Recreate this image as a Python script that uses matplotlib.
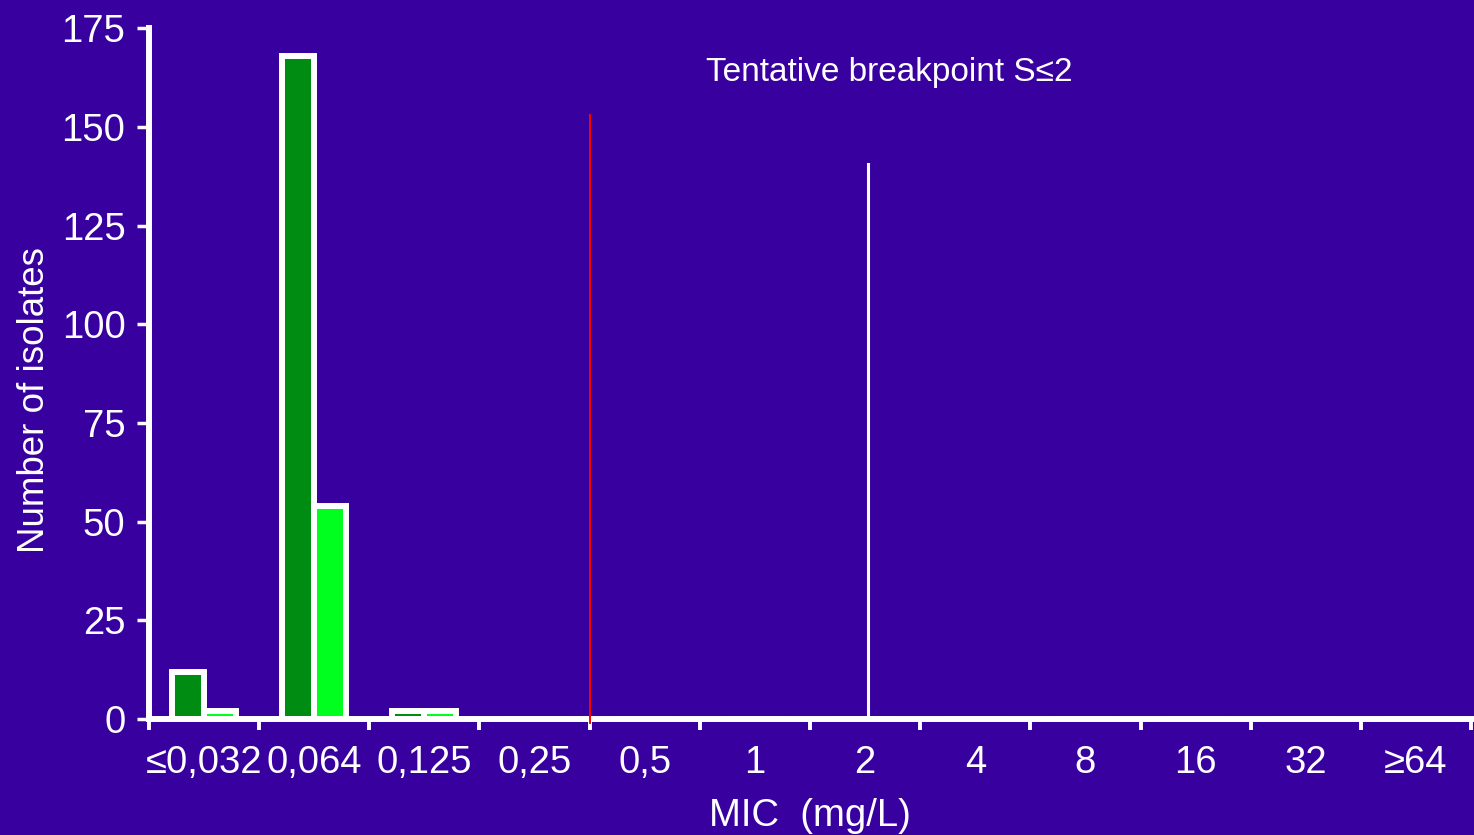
import matplotlib
matplotlib.use("Agg")
import matplotlib.pyplot as plt
import numpy as np

plt.rcParams['font.family'] = ['Liberation Sans', 'DejaVu Sans']

# MIC distribution (number of isolates per MIC class)
mic_labels = ["≤0,032", "0,064", "0,125", "0,25", "0,5", "1", "2", "4", "8", "16", "32", "≥64"]
series_dark = [12, 168, 2, 0, 0, 0, 0, 0, 0, 0, 0, 0]
series_light = [2, 54, 2, 0, 0, 0, 0, 0, 0, 0, 0, 0]

# Reference lines: red at the 0,25/0,5 boundary, white at the tentative breakpoint (2)
red_line_x = 3.5
red_line_top = 153
white_line_x = 6.03
white_line_top = 140.5
breakpoint_text = "Tentative breakpoint S≤2"

BG = "#3900A0"
DARK = "#008C12"
LIGHT = "#00FF1E"
W, H = 1474, 835

fig = plt.figure(figsize=(W / 100, H / 100), dpi=100, facecolor=BG)
ax = fig.add_axes([149 / W, 1 - 719 / H, 1322 / W, (719 - 28.3) / H])
ax.set_facecolor(BG)

x = np.arange(len(mic_labels))
bw = 0.29
ax.bar(x - bw / 2, series_dark, width=bw, color=DARK, edgecolor="white", linewidth=4.3, zorder=2)
ax.bar(x + bw / 2, series_light, width=bw, color=LIGHT, edgecolor="white", linewidth=4.3, zorder=2)

ax.set_xlim(-0.5, len(mic_labels) - 0.5)
ax.set_ylim(0, 175)
ax.set_yticks(np.arange(0, 176, 25))

# boundary ticks without labels, labels centred on each class
ax.set_xticks(np.arange(-0.5, len(mic_labels), 1.0))
ax.set_xticklabels([])
ax.set_xticks(x, minor=True)
ax.set_xticklabels(mic_labels, minor=True)
ax.tick_params(axis="x", which="major", length=8, width=2.8, color="white", direction="out")
ax.tick_params(axis="x", which="minor", length=0, pad=19, labelsize=27.5, labelcolor="white")
ax.tick_params(axis="y", length=8.5, width=2.5, color="white", direction="out",
               pad=8.5, labelsize=27.5, labelcolor="white")

for side in ("top", "right"):
    ax.spines[side].set_visible(False)
for side in ("left", "bottom"):
    ax.spines[side].set_color("white")
    ax.spines[side].set_linewidth(4.3)
    ax.spines[side].set_zorder(3)

ax.plot([red_line_x, red_line_x], [-1, red_line_top], color="#FF0000", linewidth=1.4,
        clip_on=False, zorder=4)
ax.plot([white_line_x, white_line_x], [1, white_line_top], color="white", linewidth=2.2,
        clip_on=False, zorder=4)
ax.text(6.22, 163.7, breakpoint_text, color="white", fontsize=24, ha="center", va="center")

fig.text(35 / W, 1 - 400 / H, "Number of isolates", rotation=90, color="white",
         fontsize=26.5, ha="center", va="center")
fig.text(810 / W, 1 - 826 / H, "MIC  (mg/L)", color="white", fontsize=27.5,
         ha="center", va="baseline")

fig.savefig("out.png", dpi=100, facecolor=BG)
